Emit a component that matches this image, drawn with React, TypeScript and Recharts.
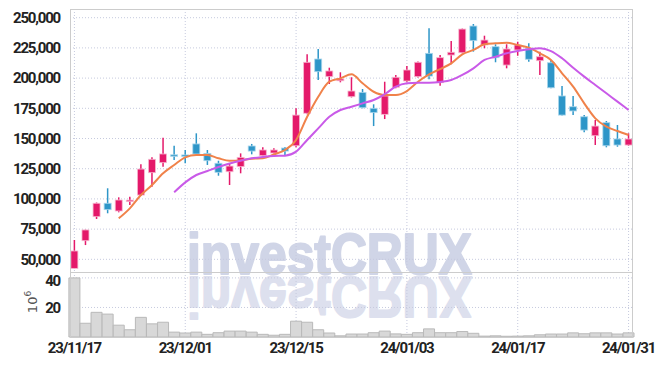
import React from 'react';
import {
  ComposedChart, Bar, Line, XAxis, YAxis, CartesianGrid,
} from 'recharts';

// trading days 23/11/17 .. 24/01/31
const dates = [
  '23/11/17', '23/11/20', '23/11/21', '23/11/22', '23/11/23', '23/11/24', '23/11/27', '23/11/28', '23/11/29', '23/11/30',
  '23/12/01', '23/12/04', '23/12/05', '23/12/06', '23/12/07', '23/12/08', '23/12/11', '23/12/12', '23/12/13', '23/12/14',
  '23/12/15', '23/12/18', '23/12/19', '23/12/20', '23/12/21', '23/12/22', '23/12/26', '23/12/27', '23/12/28', '24/01/02',
  '24/01/03', '24/01/04', '24/01/05', '24/01/08', '24/01/09', '24/01/10', '24/01/11', '24/01/12', '24/01/15', '24/01/16',
  '24/01/17', '24/01/18', '24/01/19', '24/01/22', '24/01/23', '24/01/24', '24/01/25', '24/01/26', '24/01/29', '24/01/30',
  '24/01/31',
];

const opens = [
  42500, 65400, 85300, 96400, 90000, 98500, 103200, 121700, 130000, 136500,
  136400, 145500, 137700, 129500, 122500, 126700, 143800, 135800, 138000, 142100,
  144000, 170900, 215800, 201200, 197800, 184600, 188200, 175000, 170000, 192400,
  197600, 201200, 220500, 196200, 219100, 221000, 243100, 227400, 226000, 210800,
  223300, 224700, 214400, 212700, 185200, 176300, 168000, 152300, 163100, 149600,
  144600,
];
const highs = [
  66000, 74500, 97000, 108800, 101300, 101800, 128600, 134400, 150700, 144000,
  140500, 154300, 140500, 131600, 129500, 137700, 145500, 142700, 142000, 143000,
  175000, 219700, 224100, 208600, 204800, 200700, 191000, 178300, 197000, 202600,
  210000, 213800, 241200, 219100, 230700, 241000, 244800, 235100, 228000, 228000,
  230100, 228800, 221900, 215000, 193500, 185200, 169400, 165300, 164500, 161200,
  154300,
];
const lows = [
  42500, 61800, 83400, 88100, 88900, 95000, 102500, 110100, 126700, 132200,
  129500, 136500, 128100, 119200, 111500, 121200, 136900, 135500, 137500, 135800,
  142700, 170000, 198400, 195100, 196500, 184000, 175000, 160300, 166100, 191500,
  196500, 200500, 199000, 193700, 211400, 220500, 221900, 224700, 213100, 208100,
  218500, 213600, 202600, 191500, 169000, 169400, 155100, 144600, 142700, 143200,
  144000,
];
const closes = [
  56900, 74300, 96400, 91100, 99100, 99000, 124700, 132800, 137200, 136200,
  136000, 137200, 131600, 122000, 127200, 134400, 139600, 140500, 140500, 139600,
  169400, 213100, 205300, 205900, 199300, 189300, 175500, 171400, 185200, 200700,
  206700, 213100, 201700, 216900, 221400, 240600, 231000, 231500, 216900, 224100,
  227400, 215600, 217700, 192000, 169400, 172800, 157000, 160300, 144000, 144600,
  149600,
];

// moving averages
const ma5 = [
  null, null, null, null, 83900, 92200, 103200, 111500, 121200, 128100,
  134400, 136300, 136300, 133600, 131600, 131900, 133300, 133600, 136900, 140500,
  148800, 168000, 184600, 197000, 199800, 203100, 195700, 188700, 186000, 186000,
  189300, 197000, 203100, 207500, 212200, 219700, 223300, 228000, 228800, 229300,
  227400, 225200, 220500, 215000, 204000, 192900, 179100, 166700, 159800, 156200,
  152900,
];
const ma10 = [
  null, null, null, null, null, null, null, null, null, 105500,
  113700, 119800, 123100, 126400, 129300, 131600, 133600, 134700, 135500, 135800,
  139100, 148800, 158400, 168000, 173600, 176300, 179100, 181900, 186800, 192900,
  195700, 196200, 196200, 196800, 198400, 202600, 208100, 215000, 217700, 220500,
  222400, 223800, 224700, 222400, 216400, 208600, 201200, 194300, 187400, 180500,
  173600,
];

// volume, 10^6
const volumes = [
  40, 9.3, 16.7, 15.5, 8, 4.9, 13.3, 8.9, 10, 3.3,
  2.7, 3.3, 1.8, 2.9, 4, 4, 3.3, 1.8, 1.2, 1.8,
  10.7, 10, 4.9, 2.7, 0.8, 2, 2, 2.9, 4, 2.1,
  1.8, 2.9, 5.5, 2.9, 2.9, 3.7, 2.5, 0.6, 0.8, 0.5,
  0.6, 0.8, 1.5, 2, 2, 2.8, 2.2, 2.8, 2.8, 2,
  2.8,
];

const priceTicks = [50000, 75000, 100000, 125000, 150000, 175000, 200000, 225000, 250000];
const volTicks = [20, 40];
const dateTicks = [0, 10, 20, 30, 40, 50];

const data = dates.map((d, i) => ({
  i,
  date: d,
  open: opens[i],
  high: highs[i],
  low: lows[i],
  close: closes[i],
  ma5: ma5[i],
  ma10: ma10[i],
  vol: volumes[i],
}));

const UP = '#e4196a';
const DOWN = '#2e96c8';
const GRID = '#c6cade';
const FRAME = '#cccccc';
const FONT = "Roboto, 'DejaVu Sans', sans-serif";
const tickStyle = { fontFamily: FONT, fontSize: 15, fontWeight: 700, fill: '#222', letterSpacing: -1.2 };

const Candle = (props: any) => {
  const { x, y, width, height, payload } = props;
  if (x == null || y == null) return null;
  const top = Math.min(y, y + height);
  const h = Math.abs(height);
  const { open, close, high, low } = payload;
  const pix = (v: number) => top + ((high - v) / (high - low || 1)) * h;
  const up = close >= open;
  const color = up ? UP : DOWN;
  const cx = x + width / 2;
  const bTop = pix(Math.max(open, close));
  const bBot = pix(Math.min(open, close));
  return (
    <g>
      <line x1={cx} x2={cx} y1={top} y2={top + h} stroke={color} strokeWidth={1.5} />
      <rect
        x={x}
        y={bTop}
        width={width}
        height={Math.max(1.5, bBot - bTop)}
        fill={color}
        stroke={up ? '#f7b8d0' : '#a9d6ec'}
        strokeWidth={0.8}
      />
    </g>
  );
};

const frame = (top: number, height: number): React.CSSProperties => ({
  position: 'absolute',
  left: 70,
  top,
  width: 563,
  height,
  border: `1px solid ${FRAME}`,
  boxSizing: 'border-box',
  pointerEvents: 'none',
});

const markProps = {
  x: 187,
  y: 274,
  fontFamily: "'Liberation Sans', Arial, sans-serif",
  fontWeight: 700,
  fontSize: 57,
  textLength: 285,
  lengthAdjust: 'spacingAndGlyphs',
  strokeWidth: 2,
  strokeLinejoin: 'round' as const,
};

export default function App() {
  return (
    <div style={{ position: 'absolute', left: 0, top: 0, width: 662, height: 366, background: '#fff' }}>
      <svg width={662} height={366} style={{ position: 'absolute', left: 0, top: 0 }}>
        <text {...markProps} fill="#d0d5e7" stroke="#d0d5e7">investCRUX</text>
        <text {...markProps} transform="translate(0 551) scale(1 -1)" fill="#dde0ee" stroke="#dde0ee">
          investCRUX
        </text>
        <text
          transform="translate(37 302) rotate(-90)"
          textAnchor="middle"
          fontFamily="'DejaVu Sans', sans-serif"
          fontSize={13}
          fill="#555"
        >
          10<tspan dy={-6} fontSize={9}>6</tspan>
        </text>
      </svg>

      <div style={{ position: 'absolute', left: 0, top: 0 }}>
        <ComposedChart width={662} height={272} data={data} margin={{ top: 9, right: 29, bottom: 0, left: 0 }}>
          <CartesianGrid stroke={GRID} strokeDasharray="1 2" verticalValues={dateTicks} horizontalValues={priceTicks} />
          <XAxis dataKey="i" type="number" domain={[-0.4, 50.4]} ticks={dateTicks} hide />
          <YAxis
            domain={[39500, 257200]}
            ticks={priceTicks}
            width={70}
            axisLine={false}
            tickLine={false}
            tick={tickStyle}
            tickMargin={4}
            tickFormatter={(v: number) => v.toLocaleString('en-US')}
          />
          <Bar dataKey={(d: any) => [d.low, d.high]} barSize={7} shape={Candle} isAnimationActive={false} />
          <Line type="monotone" dataKey="ma5" stroke="#f0824a" strokeWidth={2} dot={false} isAnimationActive={false} />
          <Line type="monotone" dataKey="ma10" stroke="#c95ae8" strokeWidth={2} dot={false} isAnimationActive={false} />
        </ComposedChart>
      </div>

      <div style={{ position: 'absolute', left: 0, top: 272 }}>
        <ComposedChart width={662} height={94} data={data} margin={{ top: 0, right: 29, bottom: 0, left: 0 }}>
          <CartesianGrid stroke={GRID} strokeDasharray="1 2" verticalValues={dateTicks} horizontalValues={volTicks} />
          <XAxis
            dataKey="i"
            type="number"
            domain={[-0.4, 50.4]}
            ticks={dateTicks}
            height={29}
            axisLine={false}
            tickLine={false}
            tick={{ ...tickStyle, dy: -3 }}
            tickFormatter={(v: number) => dates[v]}
          />
          <YAxis
            domain={[0, 44]}
            ticks={volTicks}
            width={70}
            axisLine={false}
            tickLine={false}
            tick={tickStyle}
            tickMargin={4}
          />
          <Bar dataKey="vol" barSize={11} fill="#d8d8d8" stroke="#b9b9b9" strokeWidth={1} isAnimationActive={false} />
        </ComposedChart>
      </div>

      <div style={frame(9, 264)} />
      <div style={frame(272, 66)} />
    </div>
  );
}
